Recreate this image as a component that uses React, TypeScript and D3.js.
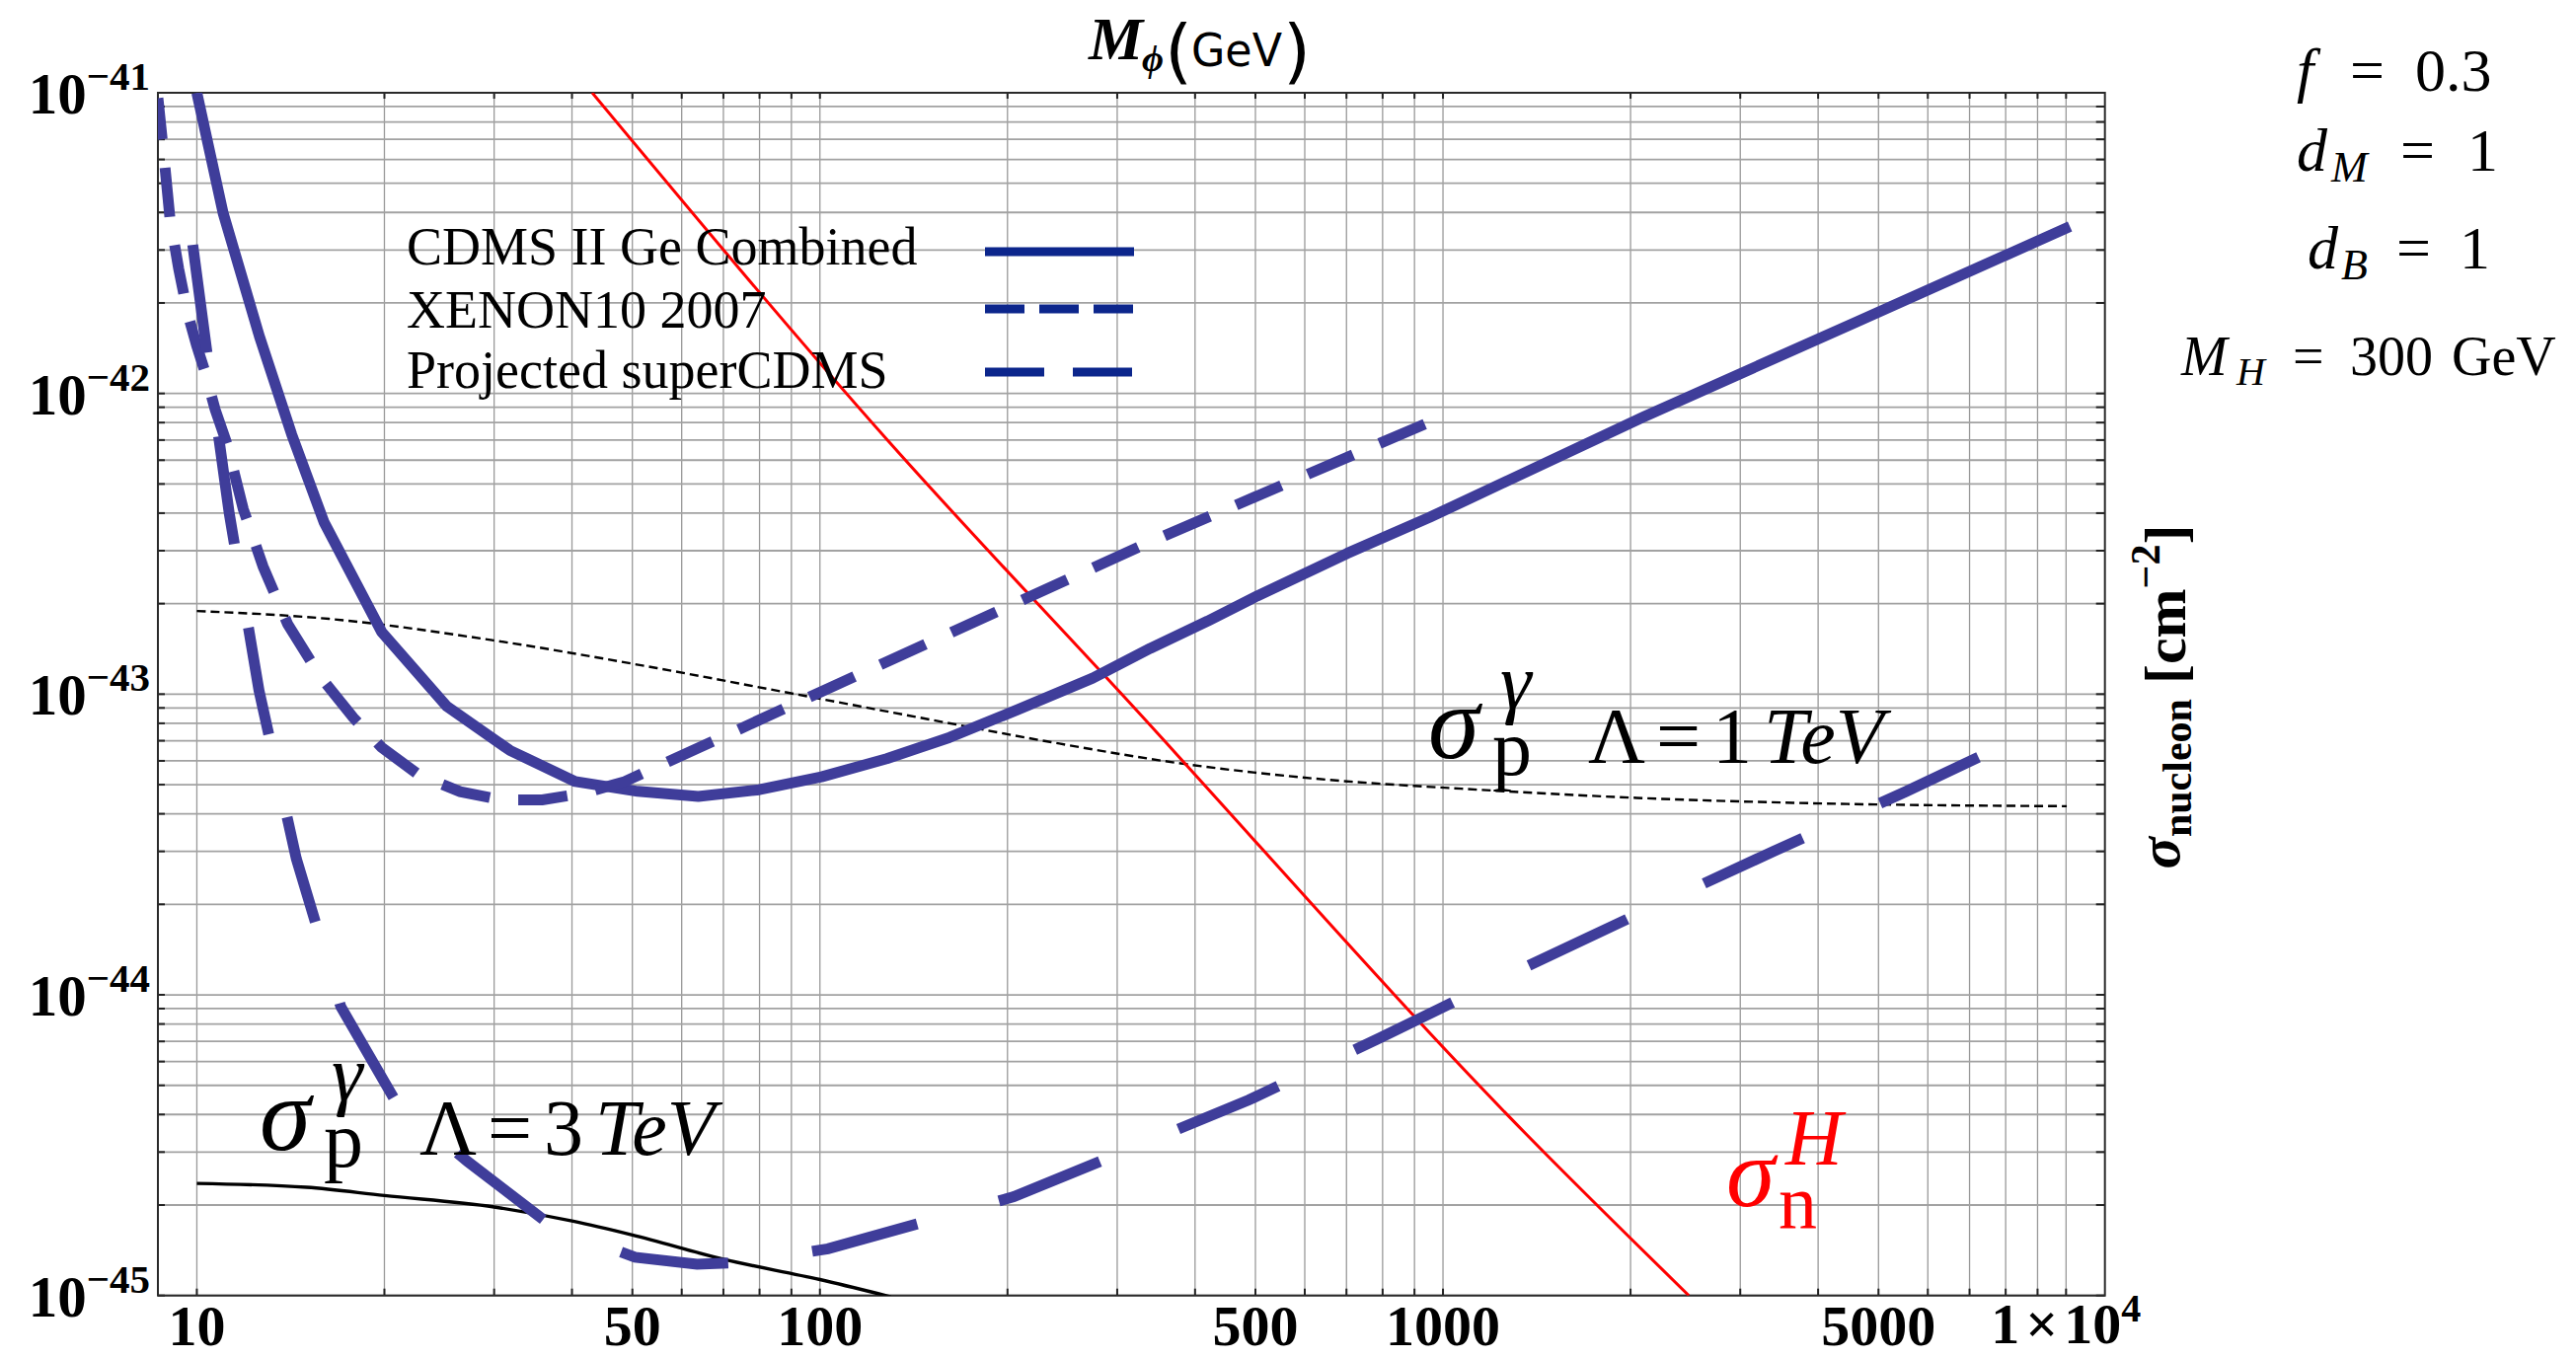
import React from "react";
import * as d3 from "d3";

const WIDTH = 2610;
const HEIGHT = 1376;
const FRAME = { left: 160, right: 2132.7, top: 94, bottom: 1312.7 };

const SERIF = '"Liberation Serif", "Times New Roman", serif';
const SANS = '"DejaVu Sans", "Liberation Sans", sans-serif';

const massDomain: [number, number] = [8.66, 11544];
const sigmaDomain: [number, number] = [1e-45, 1e-41];

// Dark-matter mass (GeV) vs spin-independent cross-section per nucleon (cm^2)
const cdmsCombined: [number, number][] = [
  [10.0, 1.0e-41], [11.02, 3.98e-42], [12.6, 1.55e-42], [14.2, 7.3e-43], [16.0, 3.73e-43],
  [19.8, 1.61e-43], [25.2, 9.1e-44], [31.8, 6.5e-44], [40.5, 5.12e-44], [51, 4.75e-44],
  [63.8, 4.57e-44], [79.9, 4.81e-44], [100.6, 5.31e-44], [128, 6.1e-44], [161.5, 7.18e-44],
  [208, 8.89e-44], [274, 1.13e-43], [339, 1.42e-43], [419, 1.75e-43], [503, 2.12e-43],
  [702, 2.94e-43], [951, 3.87e-43], [2093, 8.34e-43], [4608, 1.73e-42], [10143, 3.59e-42],
];

const xenon10: [number, number][] = [
  [8.66, 9.6e-42], [8.86, 6.07e-42], [9.05, 3.86e-42], [9.35, 2.6e-42], [9.67, 1.84e-42],
  [9.99, 1.445e-42], [10.28, 1.2e-42], [10.7, 8.84e-43], [11.18, 6.79e-43], [11.87, 4.13e-43],
  [12.77, 2.66e-43], [13.99, 1.71e-43], [15.8, 1.14e-43], [17.83, 8.35e-44], [19.78, 6.66e-44],
  [22.74, 5.38e-44], [26.46, 4.74e-44], [30.8, 4.45e-44], [35.85, 4.45e-44], [41.7, 4.68e-44],
  [48.6, 5.12e-44], [100.6, 1.02e-43], [339, 3.21e-43], [939, 7.94e-43],
];

const superCdms: [number, number][] = [
  [9.85, 3.12e-42], [10.38, 1.37e-42], [11.27, 4.0e-43], [12.58, 1.03e-43], [14.44, 2.84e-44],
  [17.02, 9.14e-45], [20.8, 4.46e-45], [27.2, 2.79e-45], [37.3, 1.69e-45], [50.5, 1.34e-45],
  [63.5, 1.27e-45], [75.1, 1.29e-45], [103, 1.43e-45], [151.8, 1.79e-45], [204.7, 2.13e-45],
  [299, 2.94e-45], [488, 4.47e-45], [793, 7.2e-45], [1288, 1.175e-44], [2093, 1.89e-44],
  [3402, 3.01e-44], [5530, 4.74e-44], [7816, 6.65e-44],
];

// Photon-mediated proton cross-section, Λ = 1 TeV and Λ = 3 TeV
const photonLambda1: [number, number][] = [
  [10.0, 1.89e-43], [16.3, 1.78e-43], [29.9, 1.51e-43], [54.8, 1.22e-43], [89.1, 1.01e-43],
  [144.8, 8.35e-44], [235.4, 6.92e-44], [382.5, 5.87e-44], [621.7, 5.24e-44], [1141, 4.81e-44],
  [2094, 4.51e-44], [3842, 4.34e-44], [10026, 4.24e-44],
];

const photonLambda3: [number, number][] = [
  [10, 2.36e-45], [15, 2.29e-45], [20, 2.15e-45], [30, 1.97e-45], [40, 1.77e-45],
  [50, 1.59e-45], [70, 1.32e-45], [100, 1.13e-45], [130, 0.99e-45],
];

// Higgs-mediated neutron cross-section
const higgsNeutron: [number, number][] = [
  [43.1, 1e-41], [128.8, 6.94e-43], [305, 1e-43], [1364, 3.42e-45], [2481, 1e-45],
];

const xTickLabels = [10, 50, 100, 500, 1000, 5000];
const yTickExponents = [-41, -42, -43, -44, -45];
const xGridDecades = [10, 100, 1000];
const yGridExponents = [-45, -44, -43, -42];

const legendEntries = [
  { label: "CDMS II Ge Combined", dash: "none" },
  { label: "XENON10 2007", dash: "40 15" },
  { label: "Projected superCDMS", dash: "60 29" },
];

const CURVE = "#3f3d9a";
const LEGEND_LINE = "#0c268c";

function PhotonLabel({ x, y, lambda }: { x: number; y: number; lambda: string }) {
  return (
    <text x={x} y={y} fontFamily={SERIF} fill="#000" fontSize={80}>
      <tspan fontSize={105} fontStyle="italic">σ</tspan>
      <tspan x={x + 65} dy={17}>p</tspan>
      <tspan x={x + 73} dy={-67} fontStyle="italic">γ</tspan>
      <tspan x={x + 162} dy={55}>Λ</tspan>
      <tspan x={x + 231}>=</tspan>
      <tspan x={x + 288}>{lambda}</tspan>
      <tspan x={x + 340} fontStyle="italic">TeV</tspan>
    </text>
  );
}

export default function App() {
  const x = d3.scaleLog().domain(massDomain).range([FRAME.left, FRAME.right]);
  const y = d3.scaleLog().domain(sigmaDomain).range([FRAME.bottom, FRAME.top]);

  const straight = d3
    .line<[number, number]>()
    .x((d) => x(d[0]))
    .y((d) => y(d[1]));
  const smooth = d3
    .line<[number, number]>()
    .x((d) => x(d[0]))
    .y((d) => y(d[1]))
    .curve(d3.curveMonotoneX);

  const xGrid: number[] = [];
  xGridDecades.forEach((dec) => {
    for (let k = 1; k <= 9; k++) xGrid.push(k * dec);
  });
  xGrid.push(10000);

  const yGrid: number[] = [];
  yGridExponents.forEach((e) => {
    for (let k = 1; k <= 9; k++) yGrid.push(k * Math.pow(10, e));
  });
  yGrid.push(1e-41);

  const legendBaselines = [268, 332, 393];
  const legendLineY = [255, 313, 377];

  return (
    <svg
      width={WIDTH}
      height={HEIGHT}
      viewBox={`0 0 ${WIDTH} ${HEIGHT}`}
      style={{ position: "absolute", left: 0, top: 0, background: "#fff" }}
    >
      <defs>
        <clipPath id="plotArea">
          <rect
            x={FRAME.left}
            y={FRAME.top}
            width={FRAME.right - FRAME.left}
            height={FRAME.bottom - FRAME.top}
          />
        </clipPath>
      </defs>
      <rect x={0} y={0} width={WIDTH} height={HEIGHT} fill="#fff" />

      {/* grid */}
      <g>
        {xGrid.map((v) => (
          <line
            key={"gx" + v}
            x1={x(v)}
            x2={x(v)}
            y1={FRAME.top}
            y2={FRAME.bottom}
            stroke="#999"
            strokeWidth={1.3}
          />
        ))}
        {yGrid.map((v, i) => (
          <line
            key={"gy" + i}
            x1={FRAME.left}
            x2={FRAME.right}
            y1={y(v)}
            y2={y(v)}
            stroke="#a2a2a2"
            strokeWidth={1.8}
          />
        ))}
      </g>

      {/* ticks */}
      <g stroke="#222" strokeWidth={2}>
        {xGrid.map((v) => (
          <g key={"tx" + v}>
            <line x1={x(v)} x2={x(v)} y1={FRAME.bottom} y2={FRAME.bottom - 7} />
            <line x1={x(v)} x2={x(v)} y1={FRAME.top} y2={FRAME.top + 6} />
          </g>
        ))}
        {yGrid.map((v, i) => (
          <g key={"ty" + i}>
            <line x1={FRAME.left} x2={FRAME.left + 7} y1={y(v)} y2={y(v)} />
            <line x1={FRAME.right} x2={FRAME.right - 9} y1={y(v)} y2={y(v)} />
          </g>
        ))}
      </g>

      {/* frame */}
      <rect
        x={FRAME.left}
        y={FRAME.top}
        width={FRAME.right - FRAME.left}
        height={FRAME.bottom - FRAME.top}
        fill="none"
        stroke="#2a2a2a"
        strokeWidth={2}
      />

      {/* curves */}
      <g clipPath="url(#plotArea)" fill="none">
        <path d={smooth(photonLambda1) || ""} stroke="#000" strokeWidth={2.4} strokeDasharray="9 5" />
        <path d={smooth(photonLambda3) || ""} stroke="#000" strokeWidth={3.4} />
        <path d={smooth(higgsNeutron) || ""} stroke="#ff0000" strokeWidth={3} />
        <path d={straight(cdmsCombined) || ""} stroke={CURVE} strokeWidth={11} strokeLinejoin="round" />
        <path
          d={straight(xenon10) || ""}
          stroke={CURVE}
          strokeWidth={11}
          strokeDasharray="50 29"
          strokeDashoffset={8}
        />
        <path d={straight(superCdms) || ""} stroke={CURVE} strokeWidth={11} strokeDasharray="110 86" />
      </g>

      {/* x tick labels */}
      <g fontFamily={SERIF} fontWeight="bold" fontSize={58} textAnchor="middle" fill="#000">
        {xTickLabels.map((v) => (
          <text key={"lx" + v} x={x(v)} y={1363}>
            {v}
          </text>
        ))}
        <text x={x(10000)} y={1361}>
          <tspan>1</tspan>
          <tspan dx={6}>×</tspan>
          <tspan dx={6}>10</tspan>
          <tspan fontSize={40} dy={-22}>4</tspan>
        </text>
      </g>

      {/* y tick labels */}
      <g fontFamily={SERIF} fontWeight="bold" fill="#000" textAnchor="end">
        {yTickExponents.map((e) => (
          <text key={"ly" + e} x={152} y={y(Math.pow(10, e)) + 21} fontSize={59}>
            <tspan>10</tspan>
            <tspan fontSize={41} dy={-24}>
              {"\u2212" + Math.abs(e)}
            </tspan>
          </text>
        ))}
      </g>

      {/* top axis title */}
      <text y={60} fill="#000">
        <tspan x={1103} fontFamily={SERIF} fontWeight="bold" fontStyle="italic" fontSize={62}>
          M
        </tspan>
        <tspan x={1157} dy={12} fontFamily={SERIF} fontWeight="bold" fontStyle="italic" fontSize={38}>
          ϕ
        </tspan>
        <tspan x={1180} dy={4} fontFamily={SANS} fontSize={72}>
          (
        </tspan>
        <tspan x={1207} dy={-9} fontFamily={SANS} fontSize={46} textLength={92} lengthAdjust="spacingAndGlyphs">
          GeV
        </tspan>
        <tspan x={1300} dy={9} fontFamily={SANS} fontSize={72}>
          )
        </tspan>
      </text>

      {/* right axis title */}
      <text
        transform="translate(2214,706) rotate(-90)"
        textAnchor="middle"
        fontFamily={SERIF}
        fontWeight="bold"
        fontSize={60}
        fill="#000"
      >
        <tspan fontStyle="italic" dy={-6}>σ</tspan>
        <tspan fontSize={42} dy={12}>nucleon</tspan>
        <tspan dy={-6}> [cm</tspan>
        <tspan fontSize={42} dy={-26}>{"\u22122"}</tspan>
        <tspan dy={26}>]</tspan>
      </text>

      {/* legend */}
      <g fontFamily={SERIF} fontSize={54} fill="#000">
        {legendEntries.map((d, i) => (
          <g key={d.label}>
            <text x={412} y={legendBaselines[i]}>
              {d.label}
            </text>
            <line
              x1={998}
              x2={1149}
              y1={legendLineY[i]}
              y2={legendLineY[i]}
              stroke={LEGEND_LINE}
              strokeWidth={9}
              strokeDasharray={d.dash}
            />
          </g>
        ))}
      </g>

      {/* parameter block */}
      <g fontFamily={SERIF} fill="#000">
        <text y={92} fontSize={62}>
          <tspan x={2327} fontStyle="italic">f</tspan>
          <tspan x={2381}>=</tspan>
          <tspan x={2447}>0.3</tspan>
        </text>
        <text y={173} fontSize={62}>
          <tspan x={2327} fontStyle="italic">d</tspan>
          <tspan x={2362} fontStyle="italic" fontSize={44} dy={11}>M</tspan>
          <tspan x={2432} dy={-11}>=</tspan>
          <tspan x={2500}>1</tspan>
        </text>
        <text y={272} fontSize={62}>
          <tspan x={2338} fontStyle="italic">d</tspan>
          <tspan x={2372} fontStyle="italic" fontSize={44} dy={11}>B</tspan>
          <tspan x={2428} dy={-11}>=</tspan>
          <tspan x={2492}>1</tspan>
        </text>
        <text y={380} fontSize={56}>
          <tspan x={2210} fontStyle="italic">M</tspan>
          <tspan x={2266} fontStyle="italic" fontSize={40} dy={10}>H</tspan>
          <tspan x={2323} dy={-10}>=</tspan>
          <tspan x={2381}>300</tspan>
          <tspan x={2484}>GeV</tspan>
        </text>
      </g>

      {/* curve labels */}
      <PhotonLabel x={1447} y={768} lambda="1" />
      <PhotonLabel x={263} y={1165} lambda="3" />
      <text x={1749} y={1222} fontFamily={SERIF} fill="#ff0000" fontSize={100}>
        <tspan fontStyle="italic">σ</tspan>
        <tspan x={1809} dy={-42} fontSize={80} fontStyle="italic">H</tspan>
        <tspan x={1802} dy={65} fontSize={78}>n</tspan>
      </text>
    </svg>
  );
}
